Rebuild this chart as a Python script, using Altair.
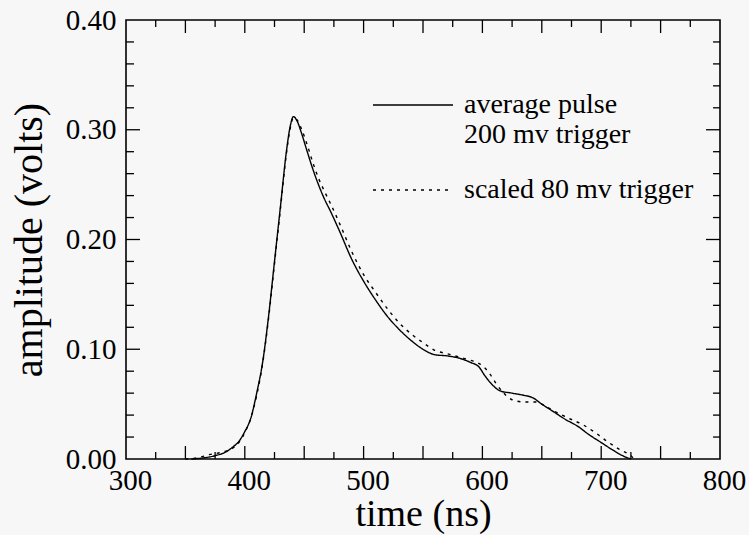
import altair as alt
import pandas as pd

FONT = "Liberation Serif"

series_names = ["average pulse", "scaled 80 mv trigger"]

solid_t = [355, 365, 375, 385, 390, 395, 400, 405, 410, 415, 420, 425, 430, 435, 438, 441,
           444, 448, 452, 457, 462, 467, 472, 480, 490, 500, 510, 520, 530, 540, 550, 560,
           570, 580, 590, 597, 602, 608, 615, 625, 635, 642, 650, 660, 670, 680, 690, 700,
           710, 720, 725]
solid_v = [0.000, 0.001, 0.003, 0.007, 0.011, 0.016, 0.025, 0.037, 0.060, 0.088, 0.130, 0.180,
           0.230, 0.280, 0.302, 0.312, 0.308, 0.296, 0.282, 0.265, 0.250, 0.237, 0.226, 0.207,
           0.182, 0.162, 0.145, 0.130, 0.118, 0.108, 0.100, 0.095, 0.094, 0.092, 0.088, 0.084,
           0.076, 0.068, 0.062, 0.060, 0.058, 0.056, 0.050, 0.043, 0.036, 0.030, 0.022, 0.015,
           0.008, 0.002, 0.000]

dotted_t = [350, 360, 370, 380, 390, 395, 400, 405, 410, 415, 420, 425, 430, 435, 438, 441,
            444, 448, 452, 457, 462, 467, 472, 480, 490, 500, 510, 520, 530, 540, 550, 560,
            570, 580, 590, 600, 606, 612, 618, 625, 635, 645, 655, 665, 675, 685, 695, 705,
            715, 725, 728]
dotted_v = [0.000, 0.001, 0.004, 0.006, 0.010, 0.015, 0.024, 0.037, 0.058, 0.087, 0.128, 0.178,
            0.228, 0.278, 0.300, 0.311, 0.309, 0.300, 0.288, 0.271, 0.256, 0.244, 0.233, 0.214,
            0.189, 0.168, 0.152, 0.137, 0.124, 0.114, 0.106, 0.099, 0.096, 0.093, 0.090, 0.085,
            0.078, 0.068, 0.060, 0.054, 0.052, 0.052, 0.047, 0.041, 0.036, 0.031, 0.024, 0.016,
            0.009, 0.003, 0.000]

x_labels = [300, 400, 500, 600, 700, 800]
y_labels = [0.0, 0.1, 0.2, 0.3, 0.4]
x_major_ticks = [350, 400, 450, 500, 550, 600, 650, 700, 750]
x_minor_ticks = [325, 375, 425, 475, 525, 575, 625, 675, 725, 775]
y_major_ticks = [0.1, 0.2, 0.3]
y_minor_ticks = [0.02, 0.04, 0.06, 0.08, 0.12, 0.14, 0.16, 0.18, 0.22, 0.24, 0.26, 0.28,
                 0.32, 0.34, 0.36, 0.38]

W, H = 594, 439

df = pd.concat([
    pd.DataFrame({"time": solid_t, "amplitude": solid_v, "series": series_names[0]}),
    pd.DataFrame({"time": dotted_t, "amplitude": dotted_v, "series": series_names[1]}),
])

xs = alt.Scale(domain=[300, 800], nice=False, zero=False)
ys = alt.Scale(domain=[0, 0.4], nice=False, zero=True)

x_axis = alt.Axis(
    values=x_labels, format="d", title="time (ns)", grid=False, ticks=False, domain=False,
    labelFont=FONT, labelFontSize=29, labelColor="black", labelPadding=7, labelOffset=4,
    labelFlush=False, labelAlign="center", labelOverlap=False,
    titleFont=FONT, titleFontSize=38, titleFontWeight="normal", titleColor="black",
    titlePadding=0)
y_axis = alt.Axis(
    values=y_labels, format=".2f", title="amplitude (volts)", grid=False, ticks=False,
    domain=False, labelFont=FONT, labelFontSize=29, labelColor="black", labelPadding=10,
    labelFlush=False, labelOverlap=False,
    titleFont=FONT, titleFontSize=40, titleFontWeight="normal", titleColor="black",
    titlePadding=16)

lines = alt.Chart(df).mark_line(color="black", strokeWidth=1.4, interpolate="monotone").encode(
    x=alt.X("time:Q", scale=xs, axis=x_axis),
    y=alt.Y("amplitude:Q", scale=ys, axis=y_axis),
    strokeDash=alt.StrokeDash("series:N", scale=alt.Scale(domain=series_names, range=[[1, 0], [3, 5]]),
        legend=alt.Legend(
            title=None, orient="none", legendX=246, legendY=44, symbolType="stroke",
            symbolSize=6400, symbolStrokeWidth=1.4, symbolStrokeColor="black",
            labelFont=FONT, labelFontSize=28, labelColor="black", labelLimit=500,
            labelOffset=10, rowPadding=-12,
            labelExpr="datum.label == 'average pulse' ? ['average pulse', '200 mv trigger'] : datum.label")),
)

def xticks(vals, y0, y1):
    return alt.Chart(pd.DataFrame({"time": vals})).mark_rule(color="black", strokeWidth=1.3).encode(
        x=alt.X("time:Q", scale=xs, axis=x_axis), y=alt.value(y0), y2=alt.value(y1))

def yticks(vals, x0, x1):
    return alt.Chart(pd.DataFrame({"amplitude": vals})).mark_rule(color="black", strokeWidth=1.3).encode(
        y=alt.Y("amplitude:Q", scale=ys, axis=y_axis), x=alt.value(x0), x2=alt.value(x1))

chart = alt.layer(
    lines,
    xticks(x_major_ticks, H, H - 13), xticks(x_minor_ticks, H, H - 7),
    xticks(x_major_ticks, 0, 13), xticks(x_minor_ticks, 0, 7),
    yticks(y_major_ticks, 0, 14), yticks(y_minor_ticks, 0, 8),
    yticks(y_major_ticks, W, W - 14), yticks(y_minor_ticks, W, W - 7),
).properties(
    width=W, height=H,
    autosize=alt.AutoSizeParams(type="none"),
    padding={"left": 126, "top": 20, "right": 29, "bottom": 76},
    background="#f7f7f7",
).configure_view(stroke="black", strokeWidth=1.6)

chart.save("out.html", embed_options={"renderer": "svg", "actions": False})
